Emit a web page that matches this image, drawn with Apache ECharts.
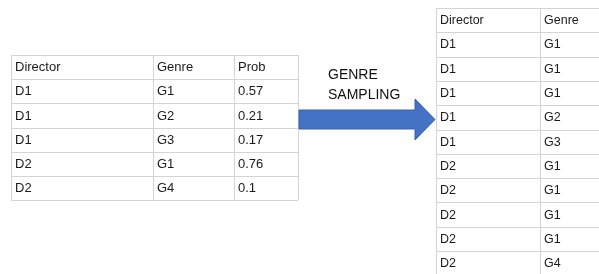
<!DOCTYPE html>
<html>
<head>
<meta charset="utf-8">
<script src="https://cdn.jsdelivr.net/npm/echarts@6/dist/echarts.min.js"></script>
<style>
  html, body { margin: 0; padding: 0; background: #fff; }
  #main { width: 599px; height: 274px; }
</style>
</head>
<body>
<div id="main"></div>
<script>
// source table
const inHeaders = ['Director', 'Genre', 'Prob'];
const inDirectors = ['D1', 'D1', 'D1', 'D2', 'D2'];
const inGenres = ['G1', 'G2', 'G3', 'G1', 'G4'];
const inProbs = ['0.57', '0.21', '0.17', '0.76', '0.1'];

// sampled table
const outHeaders = ['Director', 'Genre'];
const outDirectors = ['D1', 'D1', 'D1', 'D1', 'D1', 'D2', 'D2', 'D2', 'D2', 'D2'];
const outGenres = ['G1', 'G1', 'G1', 'G2', 'G3', 'G1', 'G1', 'G1', 'G1', 'G4'];

const arrowLabel = ['GENRE', 'SAMPLING'];

const lineColor = '#d4d4d4';
const textColor = '#1a1a1a';

// builds lines + texts of one table
const buildTable = (x0, y0, colX, rowH, rows, fontSize) => {
  const els = [];
  const nRows = rows.length;
  const right = colX[colX.length - 1];
  const bottom = y0 + nRows * rowH;
  for (let r = 0; r <= nRows; r++) {
    const y = Math.round(y0 + r * rowH) + 0.5;
    els.push({ type: 'line', shape: { x1: x0, y1: y, x2: right, y2: y },
      style: { stroke: lineColor, lineWidth: 1 }, silent: true });
  }
  for (let c = 0; c < colX.length; c++) {
    const x = Math.round(colX[c]) + 0.5;
    els.push({ type: 'line', shape: { x1: x, y1: y0, x2: x, y2: bottom },
      style: { stroke: lineColor, lineWidth: 1 }, silent: true });
  }
  rows.forEach((row, r) => {
    row.forEach((txt, c) => {
      els.push({
        type: 'text', silent: true,
        x: colX[c] + 4, y: y0 + r * rowH + rowH / 2 + 0.5,
        style: { text: txt, fill: textColor, fontSize: fontSize,
          fontFamily: 'Liberation Sans, Arial, sans-serif', verticalAlign: 'middle' }
      });
    });
  });
  return els;
};

const inRows = [inHeaders].concat(inDirectors.map((d, i) => [d, inGenres[i], inProbs[i]]));
const outRows = [outHeaders].concat(outDirectors.map((d, i) => [d, outGenres[i]]));

let graphics = [];
graphics = graphics.concat(buildTable(11, 55, [11, 153, 234, 298], 24.2, inRows, 13));
graphics = graphics.concat(buildTable(436, 8, [436, 540, 601], 24.3, outRows, 12.5));

// arrow
graphics.push({
  type: 'polygon', silent: true,
  shape: { points: [[299, 110], [415, 110], [415, 99], [435, 119.5], [415, 140], [415, 129], [299, 129]] },
  style: { fill: '#4472c4', stroke: '#3a63ad', lineWidth: 1 }
});
arrowLabel.forEach((t, i) => {
  graphics.push({
    type: 'text', silent: true, x: 328, y: 75 + i * 20,
    style: { text: t, fill: '#111', fontSize: 14,
      fontFamily: 'Liberation Sans, Arial, sans-serif', verticalAlign: 'middle' }
  });
});

const chart = echarts.init(document.getElementById('main'));
chart.setOption({
  animation: false,
  backgroundColor: '#fff',
  graphic: graphics
});
</script>
</body>
</html>
